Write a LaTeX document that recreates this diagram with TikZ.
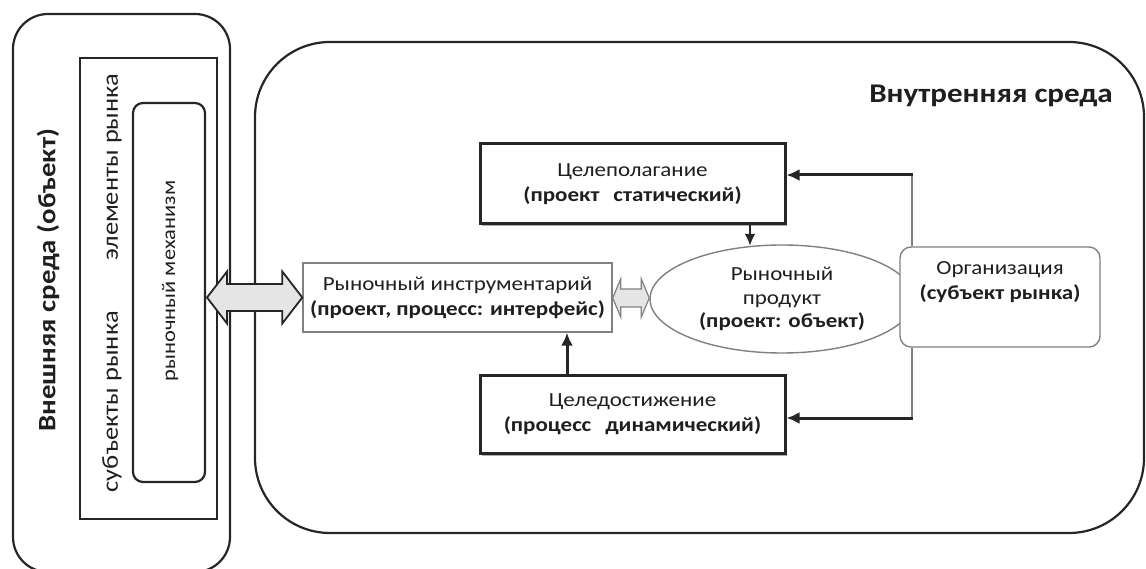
\documentclass[tikz,border=0pt]{standalone}
\usepackage{fontspec}
\setmainfont{Carlito}[FakeStretch=1.15]
\usetikzlibrary{shapes.geometric,arrows.meta,shadows,calc}
\definecolor{lineDark}{gray}{0.15}
\definecolor{lineGray}{gray}{0.5}
\definecolor{txt}{gray}{0.12}
\definecolor{arrowFill}{gray}{0.9}
\tikzset{
  frame/.style={draw=lineDark, line width=2.2pt},
  goalbox/.style={draw=lineDark, line width=3pt, fill=white, minimum width=305, minimum height=80,
    align=center, text=txt, font=\fontsize{20}{25}\selectfont,
    drop shadow={shadow xshift=2pt, shadow yshift=-2.5pt, fill=black!45, opacity=0.7}},
  thinbox/.style={draw=lineGray, line width=1.4pt, fill=white, align=center, text=txt,
    font=\fontsize{20}{25}\selectfont},
  hconn/.style={draw=lineDark, line width=3pt, -{Latex[length=13pt,width=12pt]}},
  vconn/.style={draw=lineGray, line width=1.6pt},
  bigarrow/.style={draw=lineDark, line width=1.8pt, fill=arrowFill, line join=miter},
  smallarrow/.style={draw=lineGray, line width=1.2pt, fill=arrowFill}
}
\begin{document}
\begin{tikzpicture}[x=1pt,y=-1pt]
\useasboundingbox (0,0) rectangle (1146,569);
% containers
\node[frame, rounded corners=75, minimum width=889, minimum height=491, inner sep=0] (innerbox) at (699.5,287.5) {};
\node[frame, rounded corners=35, minimum width=217, minimum height=558, inner sep=0] (extbox) at (121.5,293) {};
\node[frame, minimum width=137, minimum height=461, inner sep=0] (subjbox) at (148.5,288.5) {};
\node[frame, rounded corners=10, minimum width=72, minimum height=379, inner sep=0] (mechbox) at (169,292.5) {};
% texts of the external environment
\node[rotate=90, text=txt, font=\fontsize{25}{28}\selectfont\bfseries] (ext) at (48,280) {Внешняя среда (объект)};
\node[rotate=90, text=txt, font=\fontsize{23}{26}\selectfont] (subj) at (112,283) {субъекты рынка\hspace{2.2em}элементы рынка};
\node[rotate=90, text=txt, font=\fontsize{19.5}{22}\selectfont] (mech) at (170,281) {рыночный механизм};
% internal environment title
\node[text=txt, font=\fontsize{27}{30}\selectfont\bfseries] (intitle) at (991,96) {Внутренняя среда};
% main nodes
\node[goalbox] (goal) at (632.5,184) {Целеполагание\\\textbf{(проект\hspace{0.7em}статический)}};
\node[goalbox, minimum height=78] (reach) at (632.5,414) {Целедостижение\\\textbf{(процесс\hspace{0.7em}динамический)}};
\node[thinbox, minimum width=309, minimum height=69, inner sep=2pt] (instr) at (457.5,297.5) {Рыночный инструментарий\\\textbf{(проект, процесс: интерфейс)}};
\node[thinbox, ellipse, minimum width=264, minimum height=108, inner sep=0pt, font=\fontsize{20}{23.5}\selectfont] (prod) at (782,299) {Рыночный\\продукт\\\textbf{(проект: объект)}};
\node[thinbox, rounded corners=11, minimum width=200, minimum height=100] (org) at (1000,297) {Организация\\\textbf{(субъект рынка)}\\[8pt]};
% connectors from the organisation
\coordinate (jt) at (912,175);
\coordinate (jb) at (912,418);
\draw[vconn] (org.north -| jt) -- (jt);
\draw[hconn] ([xshift=0.8pt]jt) -- (jt -| goal.east);
\draw[vconn] (org.south -| jb) -- (jb);
\draw[hconn] ([xshift=0.8pt]jb) -- (jb -| reach.east);
% goal -> product
\coordinate (ax) at (750,0);
\draw[hconn, line width=2.4pt, -{Latex[length=12pt,width=11pt]}] (goal.south -| ax) -- ($(ax |- prod.north)+(0,1.5)$);
% reach -> instrument
\coordinate (bx) at (567,0);
\draw[hconn] (reach.north -| bx) -- (bx |- instr.south);
% big double arrow
\coordinate (bigL) at (207,297.5);
\draw[bigarrow] (bigL) -- ++(20,-26) -- ++(0,12.5)
  -- ($(instr.west)+(-20,-13.5)$) -- ($(instr.west)+(-20,-26)$) -- (instr.west)
  -- ($(instr.west)+(-20,26)$) -- ($(instr.west)+(-20,13.5)$)
  -- ($(bigL)+(20,13.5)$) -- ($(bigL)+(20,26)$) -- cycle;
% small double arrow
\coordinate (smL) at ($(instr.east)+(0,0.5)$);
\coordinate (smR) at ($(prod.west)+(0,-1)$);
\draw[smallarrow] (smL) -- ++(8,-19) -- ++(0,10) -- ($(smR)+(-8,-9)$) -- ($(smR)+(-8,-19)$) -- (smR)
  -- ($(smR)+(-8,19)$) -- ($(smR)+(-8,9)$) -- ($(smL)+(8,9)$) -- ($(smL)+(8,19)$) -- cycle;
\end{tikzpicture}
\end{document}
